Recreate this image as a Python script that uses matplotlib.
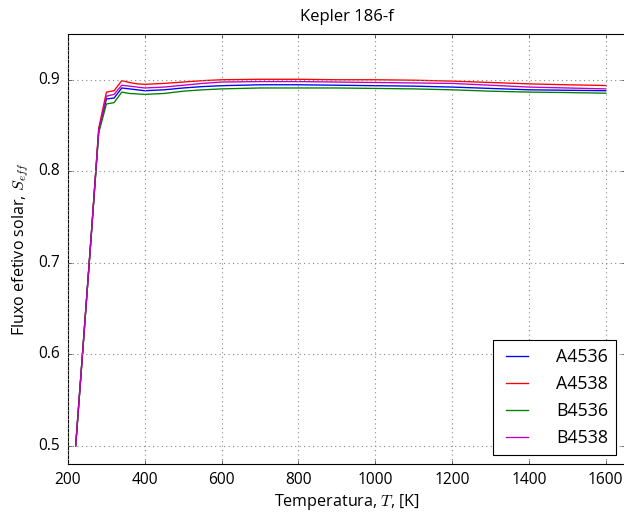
import matplotlib
matplotlib.use("Agg")
import matplotlib.pyplot as plt

# Temperature grid [K]
temperature = [220, 240, 260, 280, 300, 320, 340, 360, 380, 400, 450, 500,
               550, 600, 700, 800, 900, 1000, 1100, 1200, 1300, 1400, 1500, 1600]

# Effective solar flux for each model
a4536 = [0.500, 0.613, 0.727, 0.844, 0.879, 0.880, 0.891, 0.890, 0.889, 0.888,
         0.889, 0.891, 0.8925, 0.8935, 0.8945, 0.8945, 0.894, 0.8935, 0.893, 0.892,
         0.8905, 0.889, 0.8885, 0.888]
a4538 = [0.500, 0.613, 0.727, 0.847, 0.8865, 0.888, 0.899, 0.897, 0.8955, 0.895,
         0.896, 0.8975, 0.899, 0.900, 0.9005, 0.9005, 0.900, 0.900, 0.8995, 0.8985,
         0.897, 0.8955, 0.8945, 0.8937]
b4536 = [0.500, 0.613, 0.727, 0.842, 0.8735, 0.875, 0.8865, 0.885, 0.8845, 0.884,
         0.885, 0.8875, 0.889, 0.890, 0.891, 0.891, 0.891, 0.8905, 0.890, 0.889,
         0.8875, 0.8865, 0.886, 0.8853]
b4538 = [0.500, 0.613, 0.727, 0.845, 0.882, 0.884, 0.894, 0.893, 0.892, 0.891,
         0.892, 0.894, 0.896, 0.8975, 0.898, 0.898, 0.8975, 0.897, 0.8965, 0.896,
         0.894, 0.892, 0.891, 0.890]

series = [("A4536", a4536, "b"), ("A4538", a4538, "r"),
          ("B4536", b4536, "g"), ("B4538", b4538, "m")]

plt.style.use("classic")
plt.rcParams["font.family"] = ["Open Sans", "DejaVu Sans"]
plt.rcParams["mathtext.fontset"] = "cm"

fig = plt.figure(figsize=(7.8, 6.4125), dpi=80, facecolor="white")
ax = fig.add_axes([68 / 624, 1 - 464 / 513, 557 / 624, 430 / 513])

for name, vals, col in series:
    ax.plot(temperature, vals, color=col, lw=1.2, label=name)

ax.set_xlim(200, 1650)
ax.set_ylim(0.48, 0.95)
ax.set_xticks([200, 400, 600, 800, 1000, 1200, 1400, 1600])
ax.set_yticks([0.5, 0.6, 0.7, 0.8, 0.9])
ax.grid(True, color="#888888", linestyle=":", linewidth=1.0)
ax.tick_params(labelsize=14, pad=7)

ax.set_title("Kepler 186-f", fontsize=15, pad=12)
ax.set_xlabel("Temperatura, $T$, [K]", fontsize=14.5, labelpad=4)
ax.set_ylabel("Fluxo efetivo solar, $S_{eff}$", fontsize=14.5, labelpad=7)

leg = ax.legend(loc="lower right", fontsize=16, frameon=True, fancybox=False,
                handlelength=1.8, handletextpad=1.3, borderpad=0.45,
                borderaxespad=0.5)
leg.get_frame().set_edgecolor("black")

fig.savefig("out.png", dpi=80, facecolor="white")
